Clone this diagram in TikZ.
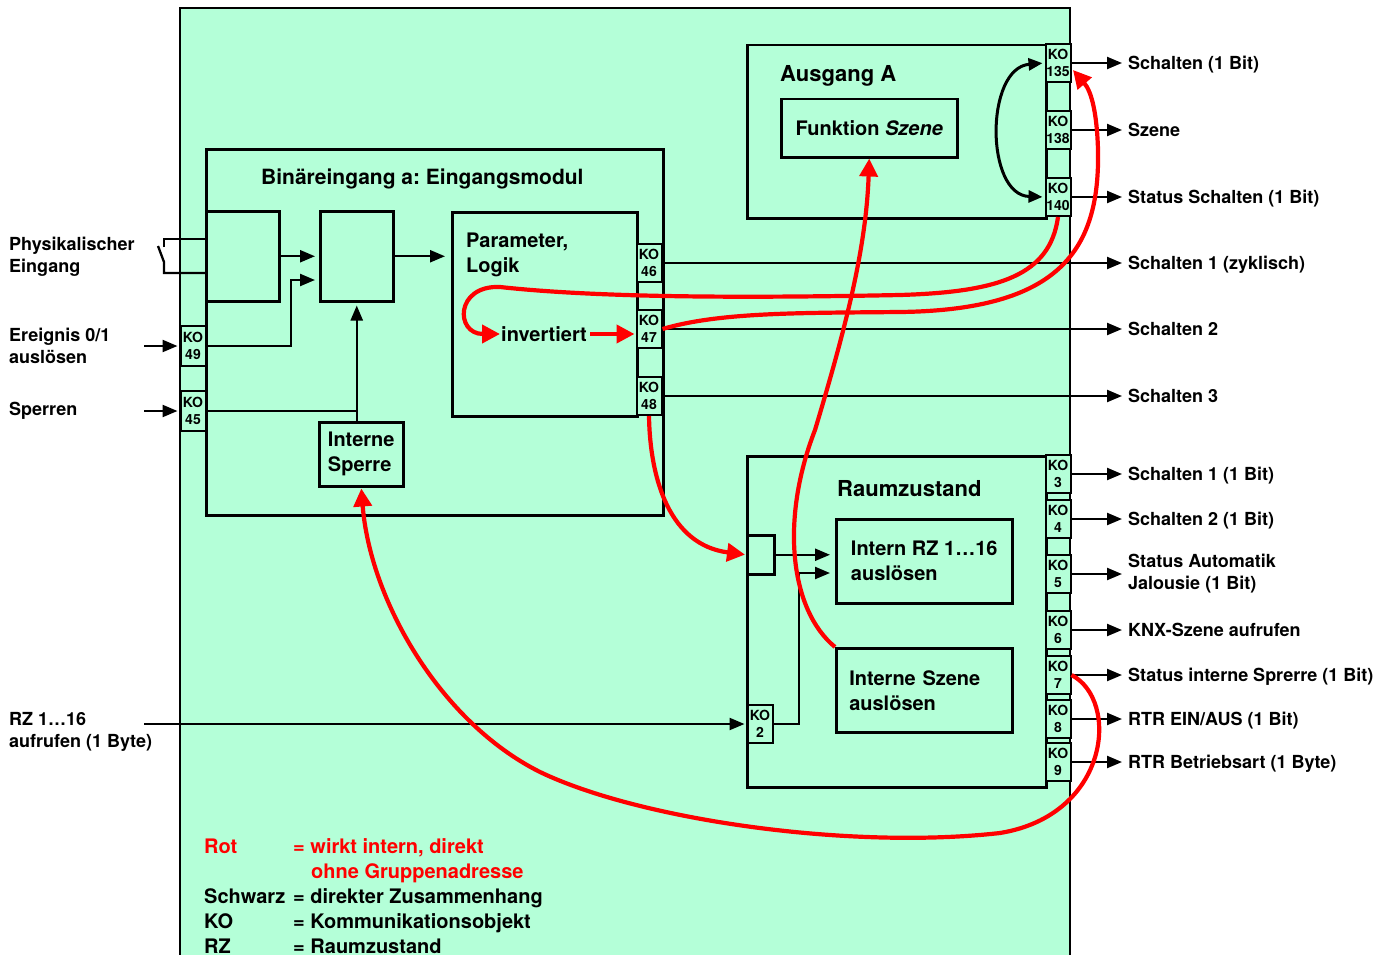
\documentclass[tikz,border=0pt]{standalone}
\usepackage{fontspec}
\setmainfont{TeX Gyre Heros}
\usetikzlibrary{arrows.meta}
\definecolor{mint}{RGB}{180,255,216}
\definecolor{rd}{RGB}{255,0,0}
\frenchspacing
\begin{document}
\begin{tikzpicture}[x=1pt,y=-1pt,
  box/.style={draw, line width=2.5pt, inner sep=0pt, anchor=north west, align=left, font=\fontsize{20}{25}\selectfont\bfseries},
  ko/.style={draw, fill=mint, line width=2pt, minimum width=25pt, minimum height=38pt, inner sep=0pt, align=center, font=\fontsize{14}{17}\selectfont\bfseries},
  conn/.style={line width=2.3pt},
  arr/.style={conn, -{Triangle[length=15pt,width=12pt]}},
  rline/.style={draw=rd, line width=4.2pt},
  rarr/.style={rline, -{Triangle[length=18pt,width=18pt]}},
  txt/.style={inner sep=0pt, anchor=north west, align=left, font=\fontsize{18}{22}\selectfont\bfseries},
  ttl/.style={inner sep=0pt, anchor=north west, font=\fontsize{22}{26}\selectfont\bfseries},
  rl/.style={inner sep=0pt, anchor=west, text height=12.9pt, text depth=0pt, font=\fontsize{18}{22}\selectfont\bfseries},
]
\useasboundingbox (0,0) rectangle (1386,955);
% main green area
\fill[mint] (180,8) rectangle (1070,960);
\draw[line width=2.5pt] (180,962) -- (180,8) -- (1070,8) -- (1070,962);

% ---------- Ausgang A ----------
\node[box, minimum width=299pt, minimum height=173pt] (ausg) at (746,44) {};
\node[ttl] (ausgT) at (780,65) {Ausgang A};
\node[box, anchor=north west, minimum width=176pt, minimum height=58pt, align=center] (funk) at (780,98) {Funktion \textit{Szene}};
\node[ko] (ko135) at (1058,63) {KO\\135};
\node[ko] (ko138) at (1058,130) {KO\\138};
\node[ko] (ko140) at (1058,197) {KO\\140};

% ---------- Binaereingang ----------
\node[box, minimum width=457pt, minimum height=366pt] (bin) at (205,148) {};
\node[ttl, font=\fontsize{21}{25}\selectfont\bfseries] (binT) at (261,169) {Binäreingang a: Eingangsmodul};
\node[box, minimum width=73pt, minimum height=90pt] (b1) at (205,210) {};
\node[box, minimum width=73pt, minimum height=90pt] (b2) at (319,210) {};
\node[box, minimum width=185pt, minimum height=204pt] (param) at (451,211) {};
\node[txt, font=\fontsize{20}{25}\selectfont\bfseries] (paramT) at (466,233) {Parameter,\\Logik};
\node[inner sep=0pt, anchor=west, font=\fontsize{20}{25}\selectfont\bfseries] (inv) at (501,334) {invertiert};
\node[box, minimum width=84pt, minimum height=64pt, align=left] (sperre) at (318,421) {Interne\\Sperre};
\node[ko] (ko46) at (649,263) {KO\\46};
\node[ko] (ko47) at (649,329) {KO\\47};
\node[ko] (ko48) at (649,396) {KO\\48};
\node[ko, minimum height=40pt] (ko49) at (193,346) {KO\\49};
\node[ko, minimum height=40pt] (ko45) at (193,411) {KO\\45};

% ---------- Raumzustand ----------
\node[box, minimum width=299pt, minimum height=331pt] (raum) at (746,455) {};
\node[ttl] (raumT) at (837,480) {Raumzustand};
\node[box, minimum width=27pt, minimum height=39pt] (small) at (746,534) {};
\node[box, minimum width=176pt, minimum height=84pt] (intrz) at (835,518) {Intern RZ 1…16\\auslösen};
\node[box, minimum width=176pt, minimum height=84pt, text width=150pt] (intsz) at (835,647) {Interne Szene\\auslösen};
\node[ko] (ko2) at (760,724) {KO\\2};
\node[ko] (ko3) at (1058,474) {KO\\3};
\node[ko] (ko4) at (1058,519) {KO\\4};
\node[ko] (ko5) at (1058,574) {KO\\5};
\node[ko] (ko6) at (1058,630) {KO\\6};
\node[ko] (ko7) at (1058,675) {KO\\7};
\node[ko] (ko8) at (1058,719) {KO\\8};
\node[ko] (ko9) at (1058,762) {KO\\9};

% ---------- left labels ----------
\node[txt] (phys) at (9,237) {Physikalischer\\Eingang};
\node[txt] (ereig) at (9,328) {Ereignis 0/1\\auslösen};
\node[txt] (sperrT) at (9,402) {Sperren};
\node[txt] (rzT) at (9,712) {RZ 1…16\\aufrufen (1 Byte)};
\coordinate (i49) at (144,346);
\coordinate (i45) at (144,411);
\coordinate (i2) at (144,724);

% ---------- right labels ----------
\node[rl] (o135) at (1128,63) {Schalten (1 Bit)};
\node[rl] (o138) at (1128,130) {Szene};
\node[rl] (o140) at (1128,197) {Status Schalten (1 Bit)};
\node[rl] (o46) at (1128,263) {Schalten 1 (zyklisch)};
\node[rl] (o47) at (1128,329) {Schalten 2};
\node[rl] (o48) at (1128,396) {Schalten 3};
\node[rl] (o3) at (1128,474) {Schalten 1 (1 Bit)};
\node[rl] (o4) at (1128,519) {Schalten 2 (1 Bit)};
\node[inner sep=0pt, anchor=west, align=left, font=\fontsize{18}{22}\selectfont\bfseries] (o5) at (1128,574) {Status Automatik\\Jalousie (1 Bit)};
\node[rl] (o6) at (1128,630) {KNX-Szene aufrufen};
\node[rl] (o7) at (1128,675) {Status interne Sprerre (1 Bit)};
\node[rl] (o8) at (1128,719) {RTR EIN/AUS (1 Bit)};
\node[rl] (o9) at (1128,762) {RTR Betriebsart (1 Byte)};

% ---------- black connectors ----------
\draw[conn] (164,247) -- (164,239) -- (b1.west |- 0,239);
\draw[conn] (158,246) -- (164,262) -- (164,273) -- (b1.west |- 0,273);
\draw[arr, shorten >=2pt] (i49) -- (ko49.west);
\draw[arr, shorten >=2pt] (i45) -- (ko45.west);
\draw[arr, shorten >=2pt] (i2) -- (ko2.west);
\draw[arr, shorten >=4pt] (b1.east) -- (b2.west);
\coordinate (j49) at (291,280);
\draw[arr, shorten >=4pt] (ko49.east) -| (j49) -- (j49 -| b2.west);
\draw[arr, shorten >=6pt] (b2.east) -- (b2.east -| param.west);
\draw[conn] (ko45.east) -- (ko45.east -| b2.south);
\draw[arr, shorten >=3pt] (sperre.north -| b2.south) -- (b2.south);
\draw[arr, shorten >=5pt] (small.east) -- (small.east -| intrz.west);
\coordinate (j2) at (799,573);
\draw[arr, shorten >=5pt] (ko2.east) -| (j2) -- (j2 -| intrz.west);
\draw[line width=3pt, {Triangle[length=14pt,width=12pt]}-{Triangle[length=14pt,width=12pt]}, shorten <=2pt, shorten >=2pt]
  (ko135.west) .. controls (985,68) and (985,195) .. (ko140.west);
\foreach \k in {135,138,140,46,47,48,3,4,5,6,7,8,9}
  \draw[arr, shorten >=6pt] (ko\k.east) -- (ko\k.east -| o\k.west);

% ---------- red connectors ----------
\coordinate (t135) at (1073,70);
\draw[rarr, shorten <=3pt, shorten >=1pt] (inv.east) -- (inv.east -| ko47.west);
\draw[rarr, shorten >=1pt] (ko140.south) .. controls (1050,275) and (1000,292) .. (900,295)
  .. controls (750,298) and (600,298) .. (500,287)
  .. controls (455,285) and (455,334) .. (inv.west);
\draw[rarr] (ko47.east) .. controls (720,312) and (800,313) .. (900,312)
  .. controls (1060,310) and (1100,250) .. (1098,150)
  .. controls (1097,115) and (1092,92) .. (t135);
\draw[rarr, shorten >=1pt] (ko48.south) .. controls (650,480) and (670,545) .. (small.west);
\draw[rarr] (intsz.north west) .. controls (790,610) and (780,520) .. (815,430)
  .. controls (845,330) and (866,250) .. (funk.south);
\draw[rarr, shorten >=1pt] (ko7.east) .. controls (1120,700) and (1110,815) .. (1000,833)
  .. controls (850,850) and (640,820) .. (540,772)
  .. controls (440,722) and (370,600) .. (sperre.south);

% ---------- legend ----------
\node[inner sep=0pt, anchor=north west, align=left, font=\fontsize{20}{25}\selectfont\bfseries] (legend) at (204,838)
 {\textcolor{rd}{\makebox[89pt][l]{Rot}= wirkt intern, direkt}\\
  \textcolor{rd}{\hspace*{107pt}ohne Gruppenadresse}\\
  \makebox[89pt][l]{Schwarz}= direkter Zusammenhang\\
  \makebox[89pt][l]{KO}= Kommunikationsobjekt\\
  \makebox[89pt][l]{RZ}= Raumzustand};
\end{tikzpicture}
\end{document}
